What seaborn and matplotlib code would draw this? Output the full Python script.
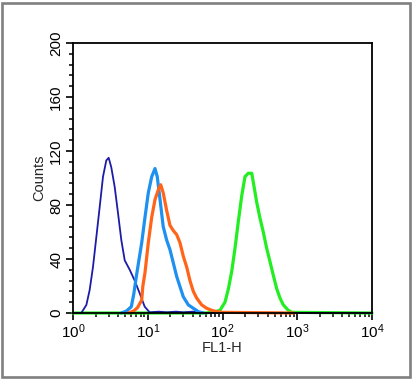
import numpy as np
import pandas as pd
import seaborn as sns
import matplotlib.pyplot as plt
from matplotlib.patches import Rectangle
from matplotlib.ticker import LogLocator, MultipleLocator, LogFormatterSciNotation, NullFormatter

# ==========================================
# datos (FL1-H, Counts)
# ==========================================
iso_x = [1.0, 1.29, 1.51, 1.67, 1.85, 2.05, 2.28, 2.52, 2.79, 3.0, 3.25, 3.61, 4.0, 4.43,
         4.92, 5.74, 6.69, 7.8, 9.1, 10.6, 14, 18, 24, 30, 40, 60, 10000]
iso_y = [0, 0, 6, 17, 34, 56, 79, 101, 113, 115, 108, 93.5, 74, 54,
         39, 32, 24, 14.6, 4.7, 0.5, 1, 0.5, 1, 0.5, 1, 0, 0]

neg_x = [4.43, 5.2, 6.03, 6.5, 7.03, 8.3, 9.19, 10.17, 11.3, 12.5, 13.4, 14.6, 16.1, 17.9,
         19.8, 22.0, 24.4, 27.0, 29.9, 34.9, 40.7, 47.5, 55]
neg_y = [0, 1.5, 4.7, 14, 27, 52, 71, 89, 101, 107, 101, 84, 64, 54,
         47, 37, 27, 19.5, 12, 6, 3.5, 1, 0]

low_x = [5.5, 6.5, 7.3, 8.3, 8.6, 9.19, 10.17, 11.3, 12.5, 13.8, 14.9, 16.1, 17.9, 19.8,
         22.0, 24.4, 27.0, 29.9, 33.2, 36.7, 40.7, 45.2, 52.7, 61.5, 71.7, 83.6, 100, 900]
low_y = [0, 1.5, 4, 9.6, 20, 30, 52, 71, 84, 91, 95, 89, 76, 65,
         61, 58, 52, 42, 34, 24, 16, 11, 6, 3.5, 2, 1, 0.5, 0]

pos_x = [1.0, 60, 80, 92.6, 108, 120, 133, 147, 163, 181, 200, 221, 246, 258, 287, 318,
         351, 390, 432, 478, 531, 588, 651, 759, 843, 10000]
pos_y = [0, 0, 1, 2, 8, 18, 31, 48, 68, 87, 101, 103.5, 103.5, 97, 82, 70,
         60, 48, 38, 28, 18, 11, 6, 2, 0.5, 0]

series = [
    ("pos", pos_x, pos_y, "#22ee22", 2.3),
    ("iso", iso_x, iso_y, "#1c1ca8", 1.3),
    ("neg", neg_x, neg_y, "#1e90f0", 2.3),
    ("low", low_x, low_y, "#ff6418", 2.3),
]

sns.set_style("ticks")
plt.rcParams["font.family"] = ["Liberation Sans", "DejaVu Sans"]
plt.rcParams["mathtext.fontset"] = "custom"
plt.rcParams["mathtext.rm"] = "Liberation Sans"
plt.rcParams["mathtext.it"] = "Liberation Sans"
plt.rcParams["mathtext.bf"] = "Liberation Sans"

fig = plt.figure(figsize=(4.12, 3.79), dpi=100)
ax = fig.add_axes([73 / 412, 66 / 379, 299 / 412, 270 / 379])

for nombre, xs, ys, color, lw in series:
    df = pd.DataFrame({"FL1-H": xs, "Counts": ys})
    sns.lineplot(data=df, x="FL1-H", y="Counts", color=color, linewidth=lw,
                 ax=ax, clip_on=False, sort=False)

ax.set_xscale("log")
ax.set_xlim(1, 10000)
ax.set_ylim(0, 200)

ax.xaxis.set_major_locator(LogLocator(base=10, numticks=10))
ax.xaxis.set_minor_locator(LogLocator(base=10, subs=np.arange(2, 10), numticks=50))
ax.xaxis.set_major_formatter(LogFormatterSciNotation())
ax.xaxis.set_minor_formatter(NullFormatter())
ax.yaxis.set_major_locator(MultipleLocator(40))
ax.yaxis.set_minor_locator(MultipleLocator(8))

ax.tick_params(axis="both", which="major", direction="out", length=5, width=1.2,
               labelsize=11, colors="black", pad=2)
ax.tick_params(axis="both", which="minor", direction="out", length=3, width=1.1, colors="black")
for lab in ax.get_yticklabels():
    lab.set_rotation(90)
    lab.set_va("center")

for s in ax.spines.values():
    s.set_visible(True)
    s.set_color("black")
    s.set_linewidth(1.3)

ax.set_xlabel("FL1-H", fontsize=10.5, labelpad=0)
ax.set_ylabel("Counts", fontsize=10.5, labelpad=2)

# marco gris exterior
fig.patches.append(Rectangle((2 / 412, 2.5 / 379), 407.5 / 412, 374 / 379,
                             transform=fig.transFigure, fill=False,
                             edgecolor="#808080", linewidth=1.9))

plt.savefig("out.png", dpi=100)
